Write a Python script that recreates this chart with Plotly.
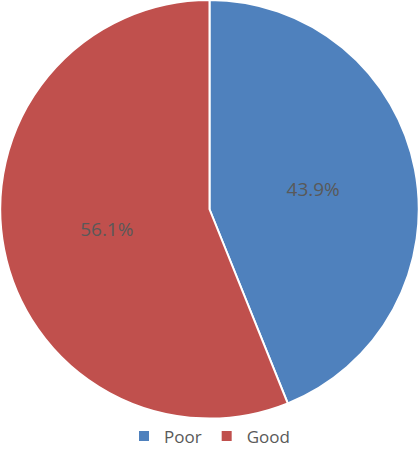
import plotly.graph_objects as go

labels = ["Poor", "Good"]
values = [43.9, 56.1]
colors = ["#4F81BD", "#C0504D"]

fig = go.Figure(go.Pie(
    labels=labels,
    values=values,
    sort=False,
    direction="clockwise",
    rotation=0,
    marker=dict(colors=colors, line=dict(color="white", width=2)),
    textinfo="percent",
    texttemplate="%{percent:.1%}",
    textposition="inside",
    insidetextorientation="horizontal",
    textfont=dict(color="#595959", size=19),
    domain=dict(x=[0, 1], y=[0.07, 1]),
    hoverinfo="label+percent",
))
fig.update_layout(
    width=419, height=450,
    margin=dict(l=0, r=0, t=0, b=0, autoexpand=False),
    paper_bgcolor="white",
    font=dict(family="Open Sans, sans-serif", color="#595959"),
    showlegend=True,
    legend=dict(orientation="h", x=0.5, xanchor="center", y=0.03, yanchor="middle",
                font=dict(size=17, color="#595959")),
)
fig.write_html("out.html", config={"displayModeBar": False},
               post_script="document.body.style.margin='0';document.body.style.overflow='hidden';")
